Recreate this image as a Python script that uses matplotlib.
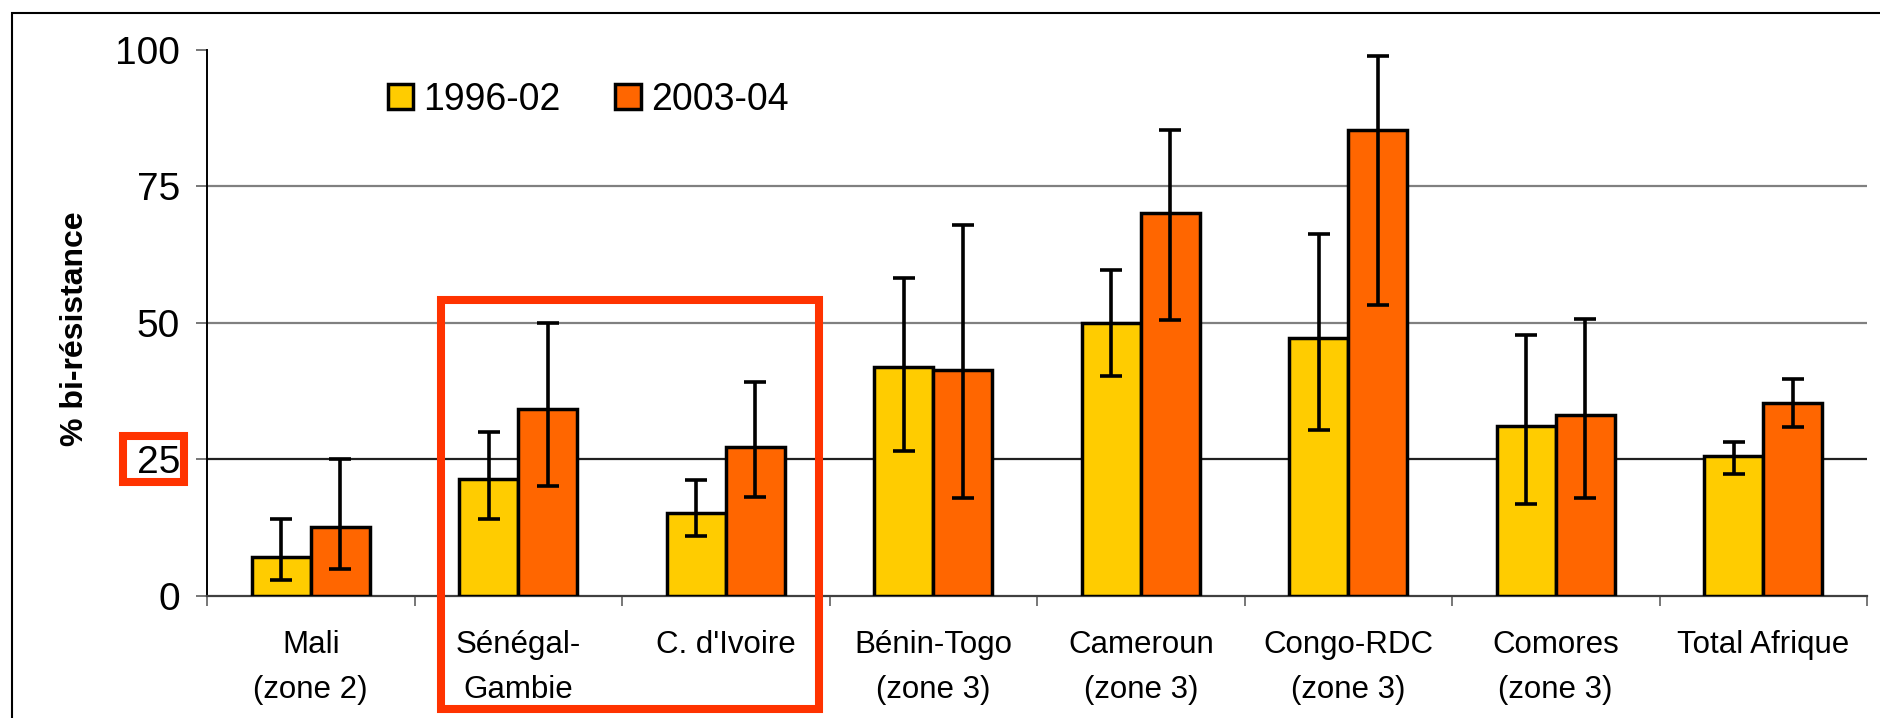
import numpy as np
import matplotlib
matplotlib.use("Agg")
import matplotlib.pyplot as plt
from matplotlib.patches import Rectangle

plt.rcParams['font.family'] = ['Liberation Sans', 'DejaVu Sans']

# data
categories = ["Mali\n(zone 2)", "Sénégal-\nGambie", "C. d'Ivoire", "Bénin-Togo\n(zone 3)",
              "Cameroun\n(zone 3)", "Congo-RDC\n(zone 3)", "Comores\n(zone 3)", "Total Afrique"]
series_names = ["1996-02", "2003-04"]
val_9602 = [7.1, 21.3, 15.2, 41.9, 50.0, 47.2, 31.0, 25.5]
low_9602 = [2.8, 14.1, 10.9, 26.5, 40.2, 30.4, 16.8, 22.2]
high_9602 = [14.1, 30.0, 21.2, 58.1, 59.7, 66.3, 47.8, 28.1]
val_0304 = [12.6, 34.2, 27.2, 41.3, 70.1, 85.3, 33.1, 35.3]
low_0304 = [4.9, 20.1, 18.0, 17.9, 50.5, 53.3, 17.9, 30.9]
high_0304 = [25.0, 50.0, 39.1, 67.9, 85.3, 98.9, 50.6, 39.6]
yticks = [0, 25, 50, 75, 100]

W, H = 1880, 718
fig = plt.figure(figsize=(W / 100, H / 100), dpi=100)
ax = fig.add_axes([207 / W, 1 - 595.7 / H, 1660 / W, 546.2 / H])

x = np.arange(len(categories))
w = 0.285
v1 = np.array(val_9602)
v2 = np.array(val_0304)
err1 = [v1 - np.array(low_9602), np.array(high_9602) - v1]
err2 = [v2 - np.array(low_0304), np.array(high_0304) - v2]
ekw = dict(ecolor="black", elinewidth=2.6, capsize=8, capthick=2.6, zorder=4)

ax.bar(x - w / 2, v1, w, yerr=err1, color="#FFCC00", edgecolor="black", linewidth=2.5,
       label=series_names[0], error_kw=ekw, zorder=3)
ax.bar(x + w / 2, v2, w, yerr=err2, color="#FF6600", edgecolor="black", linewidth=2.5,
       label=series_names[1], error_kw=ekw, zorder=3)

ax.set_xlim(-0.5, len(categories) - 0.5)
ax.set_ylim(0, 100)

# grid lines (25 drawn darker like the original)
for t in yticks[1:-1]:
    ax.axhline(t, color="#202020" if t == 25 else "#808080", lw=1.6, zorder=1)

for s in ["top", "right"]:
    ax.spines[s].set_visible(False)
ax.spines["left"].set_color("black")
ax.spines["left"].set_linewidth(1.4)
ax.spines["bottom"].set_color("#404040")
ax.spines["bottom"].set_linewidth(1.6)

ax.set_yticks(yticks)
ax.tick_params(axis="y", direction="out", length=8, width=1.2, color="#606060",
               labelsize=28, pad=11.5)
ax.set_xticks(x)
ax.set_xticklabels(categories, fontsize=22.5, linespacing=1.65)
ax.tick_params(axis="x", which="major", length=0, pad=25)
ax.set_xticks(np.arange(-0.5, len(categories)), minor=True)
ax.tick_params(axis="x", which="minor", direction="out", length=7, width=1.2, color="#606060")

fig.text(75 / W, 1 - 329 / H, "% bi-résistance", rotation=90, ha="center", va="center",
         fontsize=23, fontweight="bold")

ax.legend(loc="center left", bbox_to_anchor=(388 / W, 1 - 99.5 / H), bbox_transform=fig.transFigure,
          ncol=2, frameon=False, fontsize=27, handlelength=0.67, handleheight=0.67,
          handletextpad=0.28, columnspacing=1.45, borderpad=0, borderaxespad=0)

# figure border and highlight boxes
fig.patches.append(Rectangle((12 / W, -0.5), 2.0, 1.5 - 13 / H, transform=fig.transFigure,
                             fill=False, edgecolor="black", lw=1.5))
red = "#FF3300"
fig.patches.append(Rectangle((441 / W, 1 - 709 / H), 378 / W, 409 / H, transform=fig.transFigure,
                             fill=False, edgecolor=red, lw=5.8, zorder=10))
fig.patches.append(Rectangle((123 / W, 1 - 482 / H), 61 / W, 46 / H, transform=fig.transFigure,
                             fill=False, edgecolor=red, lw=5.8, zorder=10))

fig.savefig("out.png", dpi=100)
